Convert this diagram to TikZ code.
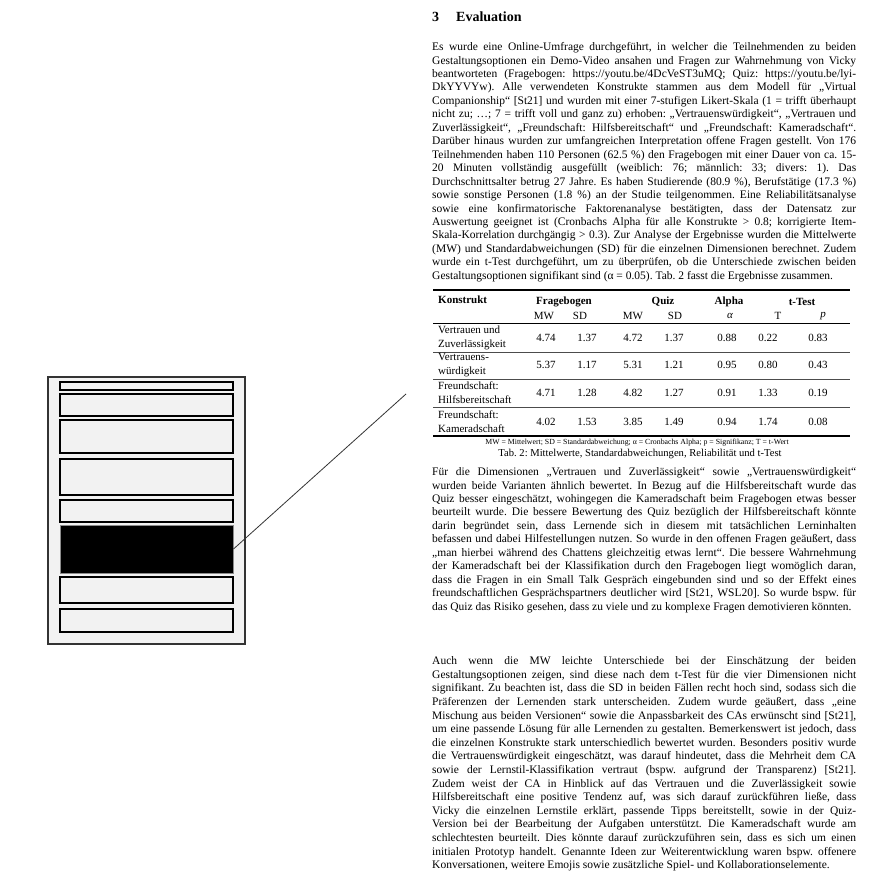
\documentclass[tikz,border=0pt]{standalone}
\usepackage{fontspec}
\setmainfont{Liberation Serif}
\setlength\parindent{0pt}
\frenchspacing
\newlength\colw
\setlength\colw{424pt}
\newcommand\bodyfont{\fontsize{11.5}{13.45}\selectfont}
\newcommand\widefont{\fontsize{11.5}{13.6}\selectfont}
\newcommand\tabfont{\fontsize{11}{14}\selectfont}
\newcommand\fullln[1]{\makebox[\colw][s]{\spaceskip=0pt\xspaceskip=0pt\strut #1}}
\newcommand\lastln[1]{\makebox[\colw][l]{\spaceskip=0pt\xspaceskip=0pt\strut #1}}
\definecolor{paper}{HTML}{F2F2F2}
\definecolor{edge}{HTML}{333333}

\begin{document}
\begin{tikzpicture}[x=1pt, y=-1pt,
    para/.style={anchor=north west, inner sep=0pt, text width=\colw, align=left, font=\bodyfont},
    cell/.style={inner sep=0pt, font=\tabfont},
    head/.style={inner sep=0pt, font=\tabfont\bfseries},
    rowlabel/.style={anchor=west, inner sep=0pt, align=left, font=\tabfont},
    band/.style={draw=black, line width=1.4pt, fill=paper, minimum width=173pt, inner sep=0pt}]
  \useasboundingbox (0,0) rectangle (880,893);
  \fill[white] (0,0) rectangle (880,893);

  % page thumbnail
  \draw[edge, line width=1.2pt, fill=paper] (48,377) rectangle (245,644);
  \node[band, minimum height=8pt]  (b1) at (146.5,386) {};
  \node[band, minimum height=22pt] (b2) at (146.5,405) {};
  \node[band, minimum height=33pt] (b3) at (146.5,436.5) {};
  \node[band, minimum height=36pt] (b4) at (146.5,477) {};
  \node[band, minimum height=22pt] (b5) at (146.5,511) {};
  \node[band, minimum height=48pt, fill=black, draw=black!45, line width=1pt] (b6) at (146.5,549) {};
  \node[band, minimum height=26pt] (b7) at (146.5,590) {};
  \node[band, minimum height=23pt] (b8) at (146.5,620.5) {};
  \coordinate (pointer) at (406,394);
  \draw[edge, line width=0.8pt] (b6.east) -- (pointer);

  % section heading
  \node[anchor=base west, inner sep=0pt, font=\fontsize{14}{16}\selectfont\bfseries] (sec) at (432,22)
    {\makebox[24pt][l]{3}Evaluation};

  % first paragraph
  \node[para] (evalA) at (432,41) {%
    \fullln{Es wurde eine Online-Umfrage durchgeführt, in welcher die Teilnehmenden zu beiden}\\
    \fullln{Gestaltungsoptionen ein Demo-Video ansahen und Fragen zur Wahrnehmung von Vicky}\\
    \fullln{beantworteten (Fragebogen: https://youtu.be/4DcVeST3uMQ; Quiz: https://youtu.be/lyi-}\\
    \fullln{DkYYVYw). Alle verwendeten Konstrukte stammen aus dem Modell für „Virtual}\\
    \fullln{Companionship“ [St21] und wurden mit einer 7-stufigen Likert-Skala (1 = trifft überhaupt}\\
    \fullln{nicht zu; …; 7 = trifft voll und ganz zu) erhoben: „Vertrauenswürdigkeit“, „Vertrauen und}\\
    \fullln{Zuverlässigkeit“, „Freundschaft: Hilfsbereitschaft“ und „Freundschaft: Kameradschaft“.}\\
    \fullln{Darüber hinaus wurden zur umfangreichen Interpretation offene Fragen gestellt. Von 176}\\
    \fullln{Teilnehmenden haben 110 Personen (62.5 \%) den Fragebogen mit einer Dauer von ca. 15-}\\
    \fullln{20 Minuten vollständig ausgefüllt (weiblich: 76; männlich: 33; divers: 1). Das}\\
    \fullln{Durchschnittsalter betrug 27 Jahre. Es haben Studierende (80.9 \%), Berufstätige (17.3 \%)}\\
    \fullln{sowie sonstige Personen (1.8 \%) an der Studie teilgenommen. Eine Reliabilitätsanalyse}\\
    \fullln{sowie eine konfirmatorische Faktorenanalyse bestätigten, dass der Datensatz zur}\\
    \fullln{Auswertung geeignet ist (Cronbachs Alpha für alle Konstrukte > 0.8; korrigierte Item-}\\
    \fullln{Skala-Korrelation durchgängig > 0.3). Zur Analyse der Ergebnisse wurden die Mittelwerte}\\
    \fullln{(MW) und Standardabweichungen (SD) für die einzelnen Dimensionen berechnet. Zudem}\\
    \fullln{wurde ein t-Test durchgeführt, um zu überprüfen, ob die Unterschiede zwischen beiden}\\
    \lastln{Gestaltungsoptionen signifikant sind (α = 0.05). Tab. 2 fasst die Ergebnisse zusammen.}};

  % table rules
  \draw[line width=1.6pt] (433,290) -- (850,290);
  \draw[line width=0.9pt] (433,323) -- (850,323);
  \draw[line width=0.6pt, black!70] (433,352) -- (850,352);
  \draw[line width=0.6pt, black!70] (433,379) -- (850,379);
  \draw[line width=0.6pt, black!70] (433,407) -- (850,407);
  \draw[line width=1.6pt] (433,436) -- (850,436);

  % table header
  \node[head, anchor=west] (hk) at (438,300) {Konstrukt};
  \node[head] (hf) at (564,302) {Fragebogen};
  \node[head] (hq) at (663,302) {Quiz};
  \node[head] (ha) at (729,302) {Alpha};
  \node[head] (ht) at (802,302) {t-Test};
  \node[cell] (s1) at (544,316) {MW};  \node[cell] (s2) at (580,316) {SD};
  \node[cell] (s3) at (633,316) {MW};  \node[cell] (s4) at (675,316) {SD};
  \node[cell] (s5) at (730,316) {\itshape α}; \node[cell] (s6) at (778,316) {T};
  \node[cell] (s7) at (823,316) {\itshape p};

  % table rows
  \node[rowlabel] (l1) at (438,338) {Vertrauen und\\Zuverlässigkeit};
  \node[cell] (r1a) at (546,338) {4.74}; \node[cell] (r1b) at (587,338) {1.37};
  \node[cell] (r1c) at (633,338) {4.72}; \node[cell] (r1d) at (674,338) {1.37};
  \node[cell] (r1e) at (727,338) {0.88}; \node[cell] (r1f) at (768,338) {0.22};
  \node[cell] (r1g) at (818,338) {0.83};
  \node[rowlabel] (l2) at (438,365) {Vertrauens-\\würdigkeit};
  \node[cell] (r2a) at (546,365) {5.37}; \node[cell] (r2b) at (587,365) {1.17};
  \node[cell] (r2c) at (633,365) {5.31}; \node[cell] (r2d) at (674,365) {1.21};
  \node[cell] (r2e) at (727,365) {0.95}; \node[cell] (r2f) at (768,365) {0.80};
  \node[cell] (r2g) at (818,365) {0.43};
  \node[rowlabel] (l3) at (438,393) {Freundschaft:\\Hilfsbereitschaft};
  \node[cell] (r3a) at (546,393) {4.71}; \node[cell] (r3b) at (587,393) {1.28};
  \node[cell] (r3c) at (633,393) {4.82}; \node[cell] (r3d) at (674,393) {1.27};
  \node[cell] (r3e) at (727,393) {0.91}; \node[cell] (r3f) at (768,393) {1.33};
  \node[cell] (r3g) at (818,393) {0.19};
  \node[rowlabel] (l4) at (438,422) {Freundschaft:\\Kameradschaft};
  \node[cell] (r4a) at (546,422) {4.02}; \node[cell] (r4b) at (587,422) {1.53};
  \node[cell] (r4c) at (633,422) {3.85}; \node[cell] (r4d) at (674,422) {1.49};
  \node[cell] (r4e) at (727,422) {0.94}; \node[cell] (r4f) at (768,422) {1.74};
  \node[cell] (r4g) at (818,422) {0.08};

  % table notes
  \node[inner sep=0pt, font=\fontsize{7.8}{9}\selectfont] (note) at (637,442.5)
    {MW = Mittelwert; SD = Standardabweichung; α = Cronbachs Alpha; p = Signifikanz; T = t-Wert};
  \node[inner sep=0pt, font=\fontsize{10.6}{12}\selectfont] (cap) at (640,454)
    {Tab. 2: Mittelwerte, Standardabweichungen, Reliabilität und t-Test};

  % second paragraph
  \node[para] (evalB) at (432,466) {%
    \fullln{Für die Dimensionen „Vertrauen und Zuverlässigkeit“ sowie „Vertrauenswürdigkeit“}\\
    \fullln{wurden beide Varianten ähnlich bewertet. In Bezug auf die Hilfsbereitschaft wurde das}\\
    \fullln{Quiz besser eingeschätzt, wohingegen die Kameradschaft beim Fragebogen etwas besser}\\
    \fullln{beurteilt wurde. Die bessere Bewertung des Quiz bezüglich der Hilfsbereitschaft könnte}\\
    \fullln{darin begründet sein, dass Lernende sich in diesem mit tatsächlichen Lerninhalten}\\
    \fullln{befassen und dabei Hilfestellungen nutzen. So wurde in den offenen Fragen geäußert, dass}\\
    \fullln{„man hierbei während des Chattens gleichzeitig etwas lernt“. Die bessere Wahrnehmung}\\
    \fullln{der Kameradschaft bei der Klassifikation durch den Fragebogen liegt womöglich daran,}\\
    \fullln{dass die Fragen in ein Small Talk Gespräch eingebunden sind und so der Effekt eines}\\
    \fullln{freundschaftlichen Gesprächspartners deutlicher wird [St21, WSL20]. So wurde bspw. für}\\
    \lastln{das Quiz das Risiko gesehen, dass zu viele und zu komplexe Fragen demotivieren könnten.}};

  % third paragraph
  \node[para, font=\widefont] (evalC) at (432,655) {%
    \fullln{Auch wenn die MW leichte Unterschiede bei der Einschätzung der beiden}\\
    \fullln{Gestaltungsoptionen zeigen, sind diese nach dem t-Test für die vier Dimensionen nicht}\\
    \fullln{signifikant. Zu beachten ist, dass die SD in beiden Fällen recht hoch sind, sodass sich die}\\
    \fullln{Präferenzen der Lernenden stark unterscheiden. Zudem wurde geäußert, dass „eine}\\
    \fullln{Mischung aus beiden Versionen“ sowie die Anpassbarkeit des CAs erwünscht sind [St21],}\\
    \fullln{um eine passende Lösung für alle Lernenden zu gestalten. Bemerkenswert ist jedoch, dass}\\
    \fullln{die einzelnen Konstrukte stark unterschiedlich bewertet wurden. Besonders positiv wurde}\\
    \fullln{die Vertrauenswürdigkeit eingeschätzt, was darauf hindeutet, dass die Mehrheit dem CA}\\
    \fullln{sowie der Lernstil-Klassifikation vertraut (bspw. aufgrund der Transparenz) [St21].}\\
    \fullln{Zudem weist der CA in Hinblick auf das Vertrauen und die Zuverlässigkeit sowie}\\
    \fullln{Hilfsbereitschaft eine positive Tendenz auf, was sich darauf zurückführen ließe, dass}\\
    \fullln{Vicky die einzelnen Lernstile erklärt, passende Tipps bereitstellt, sowie in der Quiz-}\\
    \fullln{Version bei der Bearbeitung der Aufgaben unterstützt. Die Kameradschaft wurde am}\\
    \fullln{schlechtesten beurteilt. Dies könnte darauf zurückzuführen sein, dass es sich um einen}\\
    \fullln{initialen Prototyp handelt. Genannte Ideen zur Weiterentwicklung waren bspw. offenere}\\
    \lastln{Konversationen, weitere Emojis sowie zusätzliche Spiel- und Kollaborationselemente.}};
\end{tikzpicture}
\end{document}
